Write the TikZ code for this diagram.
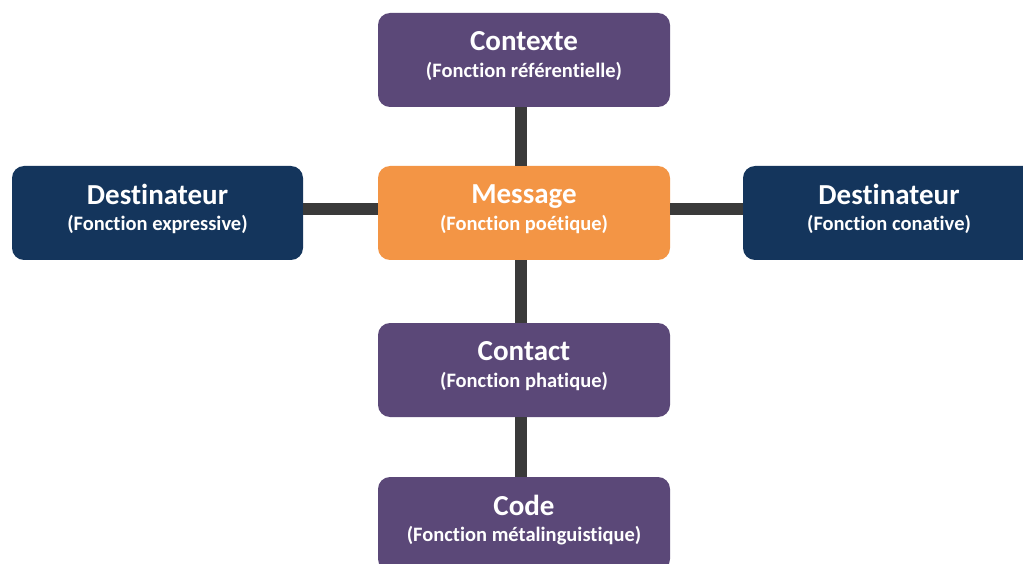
\documentclass[tikz,border=0pt]{standalone}
\usepackage{fontspec}
\setmainfont{Carlito}[Ligatures=NoCommon]
\definecolor{purp}{HTML}{5B4878}
\definecolor{navy}{HTML}{14355C}
\definecolor{orng}{HTML}{F39545}
\definecolor{lnk}{HTML}{3A3A3A}
\tikzset{
  box/.style={rounded corners=12pt, minimum width=292pt, minimum height=94pt,
    inner sep=0pt, text=white, align=center, font=\bfseries\fontsize{20.5}{26.5}\selectfont},
  link/.style={lnk, line width=12pt},
}
\newcommand{\ttl}[1]{{\fontsize{29}{29}\selectfont #1}}
\newcommand{\sub}[1]{#1\rule[-11pt]{0pt}{0pt}}
\begin{document}
\begin{tikzpicture}[x=1pt,y=1pt]
\useasboundingbox (0,0) rectangle (1023,-564);
\fill[white] (0,0) rectangle (1023,-564);
\begin{scope}
\clip (0,0) rectangle (1023,-564);
\node[box, fill=purp] (ctx) at (524,-60) {\ttl{Contexte}\\\sub{(Fonction référentielle)}};
\node[box, fill=navy, minimum width=291pt] (dl) at (157.5,-213) {\ttl{Destinateur}\\\sub{(Fonction expressive)}};
\node[box, fill=orng] (msg) at (524,-213) {\ttl{Message}\\\sub{(Fonction poétique)}};
\node[box, fill=navy] (dr) at (889,-213) {\ttl{Destinateur}\\\sub{(Fonction conative)}};
\node[box, fill=purp] (cnt) at (524,-370) {\ttl{Contact}\\\sub{(Fonction phatique)}};
\node[box, fill=purp] (code) at (524,-524) {\ttl{Code}\\\sub{(Fonction métalinguistique)}};
\draw[link] ([xshift=-3pt]ctx.south) -- ([xshift=-3pt]msg.north);
\draw[link] ([xshift=-3pt]msg.south) -- ([xshift=-3pt]cnt.north);
\draw[link] ([xshift=-3pt]cnt.south) -- ([xshift=-3pt]code.north);
\draw[link] ([yshift=4pt]dl.east) -- ([yshift=4pt]msg.west);
\draw[link] ([yshift=4pt]msg.east) -- ([yshift=4pt]dr.west);
\end{scope}
\end{tikzpicture}
\end{document}
